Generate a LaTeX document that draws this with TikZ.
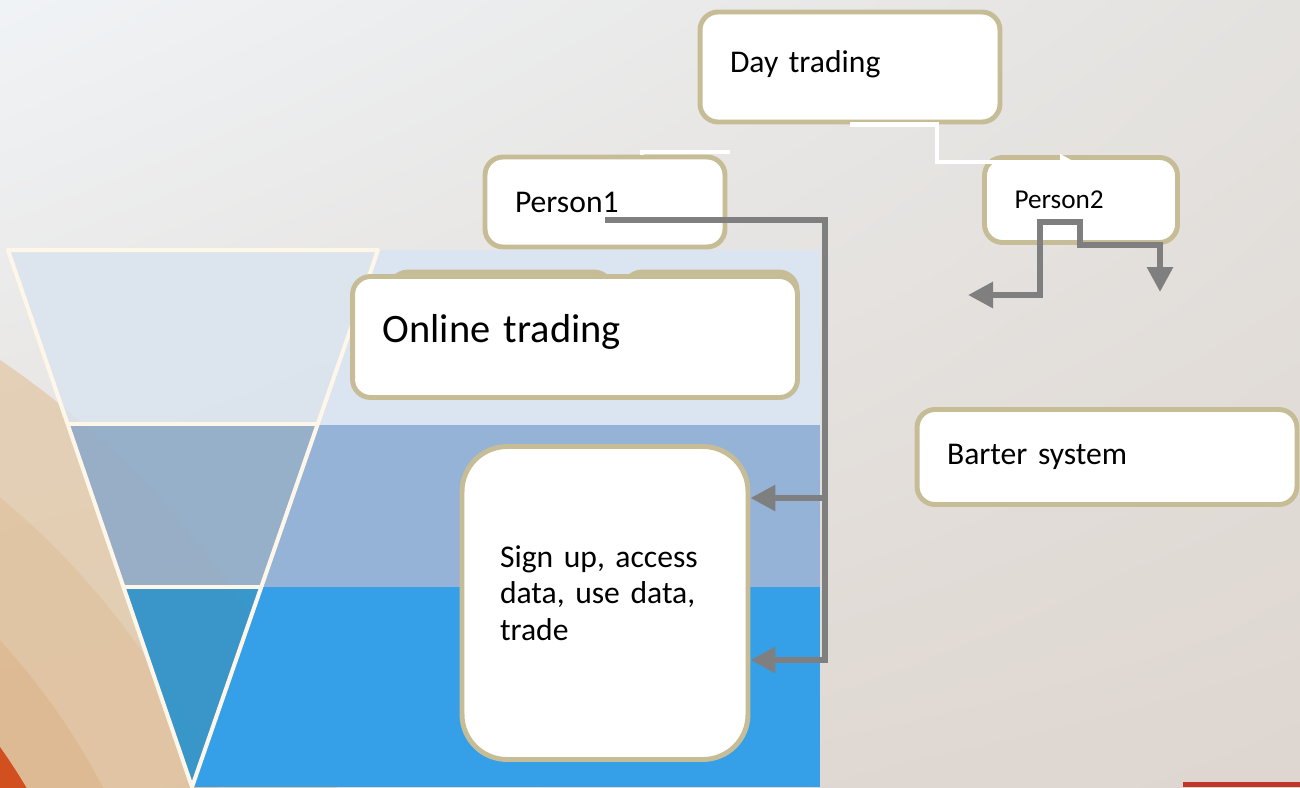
\documentclass[tikz,border=0pt]{standalone}
\usepackage{fontspec}
\setmainfont{Carlito}[WordSpace=0.7]
\usetikzlibrary{arrows.meta,shadings}

\definecolor{boxline}{HTML}{C6BD96}
\definecolor{pipegray}{HTML}{7F7F7F}
\definecolor{bandone}{HTML}{DBE5F1}
\definecolor{bandtwo}{HTML}{95B3D7}
\definecolor{bandthree}{HTML}{35A0E8}
\definecolor{funone}{HTML}{DAE4EF}
\definecolor{funtwo}{HTML}{8FABC8}
\definecolor{funthree}{HTML}{3194CB}
\definecolor{sandone}{HTML}{E2C8A6}
\definecolor{sandtwo}{HTML}{DDB68A}
\definecolor{sandthree}{HTML}{D8A670}
\definecolor{rust}{HTML}{D24F1F}
\definecolor{brick}{HTML}{C0372A}
\definecolor{cream}{HTML}{FFF6EA}
\definecolor{bgtl}{HTML}{F0F3F6}
\definecolor{bgtr}{HTML}{E4E2DF}
\definecolor{bgbl}{HTML}{E2DCD6}
\definecolor{bgbr}{HTML}{DED6D0}

\begin{document}
\begin{tikzpicture}[x=0.02cm,y=-0.02cm,
  box/.style={draw=boxline,line width=2.8pt,fill=white,rounded corners=0.36cm,
    align=left,inner xsep=0.6cm,inner ysep=0pt,font=\fontsize{18}{21}\selectfont},
  wire/.style={draw=white,line width=2.8pt},
  pipe/.style={draw=pipegray,line width=3.4pt},
  tip/.tip={Triangle[length=0.5cm,width=0.5cm]}]
\useasboundingbox (0,0) rectangle (1300,787);
\shade[upper left=bgtl,upper right=bgtr,lower left=bgbl,lower right=bgbr] (0,0) rectangle (1300,787);
\begin{scope}
\clip (0,0) rectangle (1300,787);
\fill[sandone,opacity=0.75] (-500,1100) circle (893);
\fill[sandtwo,opacity=0.35] (-500,1100) circle (783);
\fill[sandthree,opacity=0.3] (-500,1100) circle (679);
\fill[rust] (-500,1100) circle (612);
\begin{scope}
\clip (378,250) -- (820,250) -- (820,787) -- (192,787) -- cycle;
\fill[bandone] (0,250) rectangle (820,425);
\fill[bandtwo] (0,425) rectangle (820,587);
\fill[bandthree] (0,587) rectangle (820,787);
\end{scope}
\fill[funone,opacity=0.85] (8,250) -- (378,250) -- (318,424) -- (68,424) -- cycle;
\fill[funtwo,opacity=0.9] (68,424) -- (318,424) -- (261,587) -- (123,587) -- cycle;
\fill[funthree,opacity=0.95] (123,587) -- (261,587) -- (192,787) -- cycle;
\draw[cream,line width=2.3pt,line join=round] (8,250) -- (378,250) -- (192,787) -- cycle;
\draw[cream,line width=2.3pt] (68,424) -- (318,424) (123,587) -- (261,587);
\end{scope}
\fill[brick] (1183,782) rectangle (1300,787);

\draw[boxline,line width=2.8pt,fill=white,rounded corners=0.36cm] (390,272) rectangle (612,390);
\draw[boxline,line width=2.8pt,fill=white,rounded corners=0.36cm] (624,272) rectangle (797,390);

\node[box,text width=4.8cm,minimum height=2.2cm] (daytrading) at (850,67) {Day trading\\[-0.5cm]\mbox{}};
\node[box,text width=3.6cm,minimum height=1.8cm] (personone) at (605,202) {Person1};
\node[box,text width=2.66cm,minimum height=1.7cm,font=\fontsize{15.5}{18}\selectfont] (persontwo) at (1081,200) {Person2};
\node[box,text width=7.7cm,minimum height=2.42cm,font=\fontsize{23}{27}\selectfont] (onlinetrading) at (575,337) {Online trading\\[-0.6cm]\mbox{}};
\node[box,text width=4.2cm,minimum height=6.26cm,inner xsep=0.76cm,rounded corners=0.9cm] (signup) at (605,603) {Sign up, access\\data, use data,\\trade\\[-0.34cm]\mbox{}};
\node[box,text width=6.4cm,minimum height=1.9cm] (barter) at (1107,457) {Barter system};

\coordinate (stubend) at (730,152);
\coordinate (toptwo) at (1075,162);
\coordinate (trunk) at (825,660);
\coordinate (branch) at (825,498);
\coordinate (leftend) at (968,295);
\coordinate (rightend) at (1160,292);

\draw[wire] ([xshift=0.74cm]personone.north) |- (stubend);
\draw[wire,-{Triangle[length=0.3cm,width=0.3cm]}] (daytrading.south) -- ++(87,0) |- (toptwo);
\draw[pipe,-tip] ([yshift=-0.36cm]personone.center) -| (trunk) -- (signup.east |- trunk);
\draw[pipe,-tip] (branch) -- (signup.east |- branch);
\draw[pipe,tip-tip] (leftend) -| (1040,222) -| (1080,245) -| (rightend);
\end{tikzpicture}
\end{document}
